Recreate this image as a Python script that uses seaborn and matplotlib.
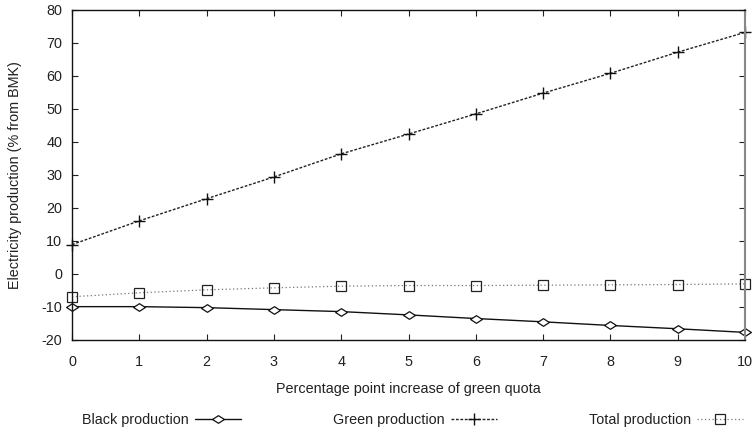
import matplotlib
matplotlib.use("Agg")
import matplotlib.pyplot as plt
import seaborn as sns

# ── Data ─────────────────────────────────────────────────────────────────────
quota_increase = [0, 1, 2, 3, 4, 5, 6, 7, 8, 9, 10]
black_production = [-9.9, -9.9, -10.2, -10.8, -11.4, -12.4, -13.5, -14.5, -15.6, -16.6, -17.7]
green_production = [8.9, 16.1, 22.8, 29.4, 36.4, 42.4, 48.5, 54.8, 60.8, 67.2, 73.2]
total_production = [-6.9, -5.7, -4.8, -4.2, -3.7, -3.5, -3.5, -3.4, -3.3, -3.2, -3.0]

x_ticks = list(range(0, 11))
y_ticks = list(range(-20, 81, 10))

sns.set_theme(style="ticks")
plt.rcParams["font.family"] = ["Liberation Sans", "DejaVu Sans"]
plt.rcParams["axes.unicode_minus"] = False

FS = 10.4

# gnuplot-like wide diamond
diamond = [(-1, 0), (0, 0.65), (1, 0), (0, -0.65), (-1, 0)]

fig = plt.figure(figsize=(7.55, 4.32), dpi=100)
ax = fig.add_axes([0.0954, 0.213, 0.8914, 0.764])

sns.lineplot(x=quota_increase, y=black_production, ax=ax, color="#111111", lw=1.0,
             marker=diamond, markersize=8.5, markerfacecolor="white",
             markeredgecolor="#111111", markeredgewidth=0.9, clip_on=False,
             label="Black production")
sns.lineplot(x=quota_increase, y=green_production, ax=ax, color="#222222", lw=1.0,
             linestyle=(0, (2, 1.2)), marker="+", markersize=9,
             markeredgecolor="#111111", markeredgewidth=1.0, clip_on=False,
             label="Green production")
sns.lineplot(x=quota_increase, y=total_production, ax=ax, color="#777777", lw=0.9,
             linestyle=(0, (1, 2)), marker="s", markersize=7, markerfacecolor="none",
             markeredgecolor="#222222", markeredgewidth=0.9, clip_on=False,
             label="Total production")

ax.set_xlim(0, 10)
ax.set_ylim(-20, 80)
ax.set_xticks(x_ticks)
ax.set_yticks(y_ticks)
ax.tick_params(direction="in", top=True, right=True, length=4, width=0.8,
               labelsize=FS, colors="#222222")
ax.tick_params(axis="x", pad=10.5)
ax.tick_params(axis="y", pad=7)
for side in ["left", "bottom", "top"]:
    ax.spines[side].set_color("#111111")
    ax.spines[side].set_linewidth(1.0)
ax.spines["right"].set_color("#888888")
ax.spines["right"].set_linewidth(1.5)

ax.set_xlabel("Percentage point increase of green quota", fontsize=FS,
              color="#222222", labelpad=10)
ax.set_ylabel("Electricity production (% from BMK)", fontsize=FS,
              color="#222222", labelpad=14)

handles, labels = ax.get_legend_handles_labels()
ax.get_legend().remove()
fig.legend(handles, labels, ncol=3, markerfirst=False, frameon=False,
           loc="center left", bbox_to_anchor=(0.1086, 0.028, 0.876, 0.0), mode="expand",
           borderaxespad=0, borderpad=0, handlelength=3.2, handletextpad=0.4,
           fontsize=FS, labelcolor="#222222")

plt.savefig("out.png", dpi=100)
